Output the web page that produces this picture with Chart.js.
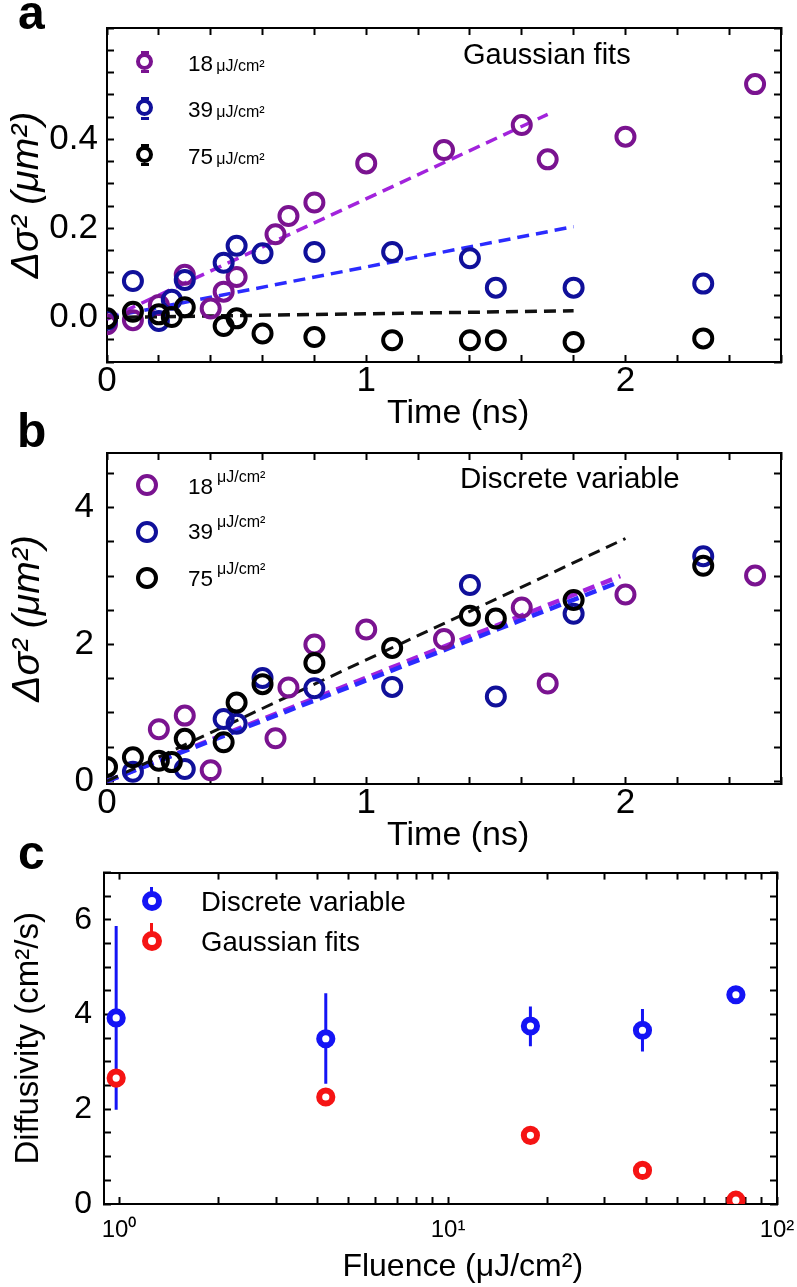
<!DOCTYPE html>
<html>
<head>
<meta charset="utf-8">
<script src="https://cdn.jsdelivr.net/npm/chart.js@4.4.1/dist/chart.umd.min.js"></script>
<style>
  body { margin: 0; background: #fff; }
  #page { position: relative; width: 797px; height: 1287px; overflow: hidden; font-family: "Liberation Sans", Arial, sans-serif; }
  canvas { position: absolute; left: 0; }
  .txt { position: absolute; line-height: 1; white-space: nowrap; color: #000; z-index: 2; }
  .mk { position: absolute; box-sizing: border-box; border-radius: 50%; border-style: solid; z-index: 2; }
  .stub { position: absolute; z-index: 2; }
</style>
</head>
<body>
<div id="page">
  <canvas id="chartA" width="797" height="440" style="top:0"></canvas>
  <canvas id="chartB" width="797" height="420" style="top:440px"></canvas>
  <canvas id="chartC" width="797" height="427" style="top:860px"></canvas>

  <!-- panel letters -->
  <div class="txt" style="left:18px;top:-11px;font-size:48px;font-weight:bold">a</div>
  <div class="txt" style="left:17px;top:407px;font-size:48px;font-weight:bold">b</div>
  <div class="txt" style="left:18px;top:829px;font-size:48px;font-weight:bold">c</div>

  <!-- panel a legend -->
  <div class="stub" style="left:141px;top:51px;width:8px;height:3px;background:#7a1390"></div>
  <div class="stub" style="left:141px;top:70px;width:8px;height:3px;background:#7a1390"></div>
  <div class="mk" style="left:136px;top:53px;width:17px;height:17px;border-width:4px;border-color:#7a1390"></div>
  <div class="stub" style="left:141px;top:97px;width:8px;height:3px;background:#10109a"></div>
  <div class="stub" style="left:141px;top:117px;width:8px;height:3px;background:#10109a"></div>
  <div class="mk" style="left:136px;top:99px;width:17px;height:17px;border-width:4px;border-color:#10109a"></div>
  <div class="stub" style="left:141px;top:144px;width:8px;height:3px;background:#000"></div>
  <div class="stub" style="left:141px;top:163px;width:8px;height:3px;background:#000"></div>
  <div class="mk" style="left:136px;top:146px;width:17px;height:17px;border-width:4px;border-color:#000"></div>
  <div class="txt" style="left:188px;top:53px;font-size:22.5px">18<span style="font-size:16px">&thinsp;μJ/cm²</span></div>
  <div class="txt" style="left:188px;top:99px;font-size:22.5px">39<span style="font-size:16px">&thinsp;μJ/cm²</span></div>
  <div class="txt" style="left:188px;top:146px;font-size:22.5px">75<span style="font-size:16px">&thinsp;μJ/cm²</span></div>
  <div class="txt" style="left:463px;top:40px;font-size:29px">Gaussian fits</div>

  <!-- panel b legend -->
  <div class="mk" style="left:136px;top:474px;width:22px;height:22px;border-width:4px;border-color:#7a1390"></div>
  <div class="mk" style="left:136px;top:521px;width:22px;height:22px;border-width:4px;border-color:#10109a"></div>
  <div class="mk" style="left:136px;top:567px;width:22px;height:22px;border-width:4px;border-color:#000"></div>
  <div class="txt" style="left:188px;top:476px;font-size:22.5px">18<span style="font-size:16px;position:relative;top:-12px;margin-left:4px">μJ/cm²</span></div>
  <div class="txt" style="left:188px;top:521px;font-size:22.5px">39<span style="font-size:16px;position:relative;top:-12px;margin-left:4px">μJ/cm²</span></div>
  <div class="txt" style="left:188px;top:568px;font-size:22.5px">75<span style="font-size:16px;position:relative;top:-12px;margin-left:4px">μJ/cm²</span></div>
  <div class="txt" style="left:460px;top:463px;font-size:29.5px">Discrete variable</div>

  <!-- panel c legend -->
  <div class="stub" style="left:150px;top:887px;width:3px;height:5px;background:#1414f5"></div>
  <div class="mk" style="left:142px;top:891px;width:20px;height:20px;border-width:6px;border-color:#1414f5"></div>
  <div class="stub" style="left:150px;top:923px;width:3px;height:9px;background:#f51414"></div>
  <div class="mk" style="left:142px;top:931px;width:20px;height:20px;border-width:6px;border-color:#f51414"></div>
  <div class="txt" style="left:201px;top:888px;font-size:27.5px">Discrete variable</div>
  <div class="txt" style="left:201px;top:928px;font-size:27.5px">Gaussian fits</div>
</div>

<script>
// ---------- panel a : Gaussian fits, delta sigma^2 (um^2) vs time (ns) ----------
const timeA18 = [0, 0.1, 0.2, 0.3, 0.4, 0.45, 0.5, 0.65, 0.7, 0.8, 1.0, 1.3, 1.6, 1.7, 2.0, 2.5];
const gaussA18 = [-0.015, -0.006, 0.028, 0.096, 0.020, 0.058, 0.091, 0.187, 0.228, 0.258, 0.346, 0.376, 0.432, 0.355, 0.406, 0.524];
const timeA39 = [0, 0.1, 0.2, 0.25, 0.3, 0.45, 0.5, 0.6, 0.8, 1.1, 1.4, 1.5, 1.8, 2.3];
const gaussA39 = [-0.005, 0.082, -0.008, 0.040, 0.084, 0.123, 0.161, 0.144, 0.147, 0.147, 0.133, 0.067, 0.067, 0.076];
const timeA75 = [0, 0.1, 0.2, 0.25, 0.3, 0.45, 0.5, 0.6, 0.8, 1.1, 1.4, 1.5, 1.8, 2.3];
const gaussA75 = [-0.002, 0.013, 0.007, 0.001, 0.023, -0.019, -0.002, -0.036, -0.044, -0.051, -0.051, -0.051, -0.055, -0.047];
// linear fits (end points)
const fitTimeA18 = [0, 1.7];   const fitA18 = [-0.004, 0.456];
const fitTimeA39 = [0, 1.8];   const fitA39 = [0.0, 0.204];
const fitTimeA75 = [0, 1.8];   const fitA75 = [0.0, 0.015];

// ---------- panel b : discrete variable ----------
const timeB18 = [0.2, 0.3, 0.4, 0.65, 0.7, 0.8, 1.0, 1.3, 1.6, 1.7, 2.0, 2.5];
const discB18 = [0.76, 0.96, 0.16, 0.63, 1.37, 2.0, 2.22, 2.08, 2.54, 1.43, 2.73, 3.01];
const timeB39 = [0.1, 0.3, 0.45, 0.5, 0.6, 0.8, 1.1, 1.4, 1.5, 1.8, 2.3];
const discB39 = [0.14, 0.18, 0.91, 0.84, 1.51, 1.36, 1.38, 2.87, 1.24, 2.45, 3.29];
const timeB75 = [0, 0.1, 0.2, 0.25, 0.3, 0.45, 0.5, 0.6, 0.8, 1.1, 1.4, 1.5, 1.8, 2.3];
const discB75 = [0.21, 0.35, 0.30, 0.28, 0.62, 0.57, 1.15, 1.42, 1.73, 1.95, 2.42, 2.38, 2.65, 3.15];
const fitTimeB18 = [0, 1.98]; const fitB18 = [0, 3.0];
const fitTimeB39 = [0, 1.98]; const fitB39 = [0, 2.92];
const fitTimeB75 = [0, 2.0];  const fitB75 = [0, 3.55];

// ---------- panel c : diffusivity (cm^2/s) vs fluence (uJ/cm^2) ----------
const fluence = [0.98, 4.25, 17.8, 39, 75];
const diffDiscrete = [3.93, 3.49, 3.76, 3.67, 4.42];
const diffDiscreteLo = [1.99, 2.54, 3.33, 3.22, 4.42];
const diffDiscreteHi = [5.87, 4.45, 4.17, 4.12, 4.42];
const diffGauss = [2.66, 2.26, 1.45, 0.71, 0.08];

// tick labels
const timeLabels = [0, 1, 2];
const sigmaLabelsA = [0, 0.2, 0.4];
const sigmaLabelsB = [0, 2, 4];
const fluenceLabels = [1, 10, 100];
const fluenceSup = {1: '10⁰', 10: '10¹', 100: '10²'};
const diffLabels = [0, 2, 4, 6];

const FONT = '"Liberation Sans", Arial, sans-serif';
const PURPLE = '#7a1390', BLUE = '#10109a';
const PURPLE_LN = '#a223dc', BLUE_LN = '#2b2bff';
const BLUE_C = '#1414f5', RED_C = '#f51414';

function pts(xs, ys) { return xs.map((x, i) => ({x: x, y: ys[i]})); }
function steps(a, b, s) { var out = []; for (var v = a; v <= b + 1e-9; v += s) out.push(Math.round(v * 1e6) / 1e6); return out; }
function logSteps() { var out = []; [1, 10].forEach(d => { for (var k = 1; k < 10; k++) out.push(k * d); }); out.push(100); return out; }

function axis(pos, o) {
  const horiz = pos === 'top' || pos === 'bottom';
  return {
    type: o.type || 'linear', position: pos, axis: horiz ? 'x' : 'y',
    min: o.min, max: o.max,
    afterBuildTicks: s => { s.ticks = o.ticks.map(v => ({value: v})); },
    afterFit: s => {
      if (horiz) s.height = o.size; else s.width = o.size;
      // no extra room for labels hanging over the plot edges
      s.paddingTop = 0; s.paddingBottom = 0; s.paddingLeft = 0; s.paddingRight = 0;
    },
    ticks: {
      display: !!o.labels, autoSkip: false, maxRotation: 0, minRotation: 0,
      color: '#000', padding: o.pad || 0,
      font: {family: FONT, size: o.fontSize || 35},
      callback: v => (o.labels && o.labels.some(l => Math.abs(l - v) < 1e-9)) ? o.fmt(v) : ''
    },
    grid: {drawOnChartArea: false, drawTicks: true, tickLength: -7, tickWidth: 2, tickColor: '#000'},
    border: {display: true, color: '#000', width: 2},
    title: o.title ? {display: true, text: o.title, color: '#000',
      font: {family: FONT, size: o.titleSize, style: o.titleStyle || 'normal'},
      padding: o.titlePad} : {display: false}
  };
}

function markers(xs, ys, color, r, bw, order, fill) {
  return {data: pts(xs, ys), showLine: false, order: order, clip: 0,
    pointStyle: 'circle', pointRadius: r, pointBorderWidth: bw,
    pointBorderColor: color, pointBackgroundColor: fill || 'rgba(0,0,0,0)'};
}
function fitLine(xs, ys, color, w, order) {
  return {data: pts(xs, ys), showLine: true, order: order, pointRadius: 0,
    borderColor: color, borderWidth: w, borderDash: [12, 7], fill: false};
}

const common = {
  responsive: false, animation: false, events: [],
  plugins: {legend: {display: false}, tooltip: {enabled: false}}
};

// panel a
new Chart(document.getElementById('chartA'), {
  type: 'scatter',
  data: {datasets: [
    markers(timeA75, gaussA75, '#000', 9, 4, 1),
    markers(timeA39, gaussA39, BLUE, 9, 4, 2),
    markers(timeA18, gaussA18, PURPLE, 9, 4, 3),
    fitLine(fitTimeA75, fitA75, '#111', 3.5, 4),
    fitLine(fitTimeA39, fitA39, BLUE_LN, 3.5, 5),
    fitLine(fitTimeA18, fitA18, PURPLE_LN, 3.5, 6)
  ]},
  options: Object.assign({}, common, {
    layout: {padding: {left: 0, top: 28, right: 16, bottom: 0}},
    scales: {
      x: axis('bottom', {min: 0, max: 2.6, ticks: steps(0, 2.6, 0.2), labels: timeLabels, fmt: v => String(v),
        size: 78, pad: 5, title: '\u00a0\u00a0\u00a0Time (ns)', titleSize: 34, titlePad: {top: 0, bottom: 6}}),
      x2: axis('top', {min: 0, max: 2.6, ticks: steps(0, 2.6, 0.2), size: 0}),
      y: axis('left', {min: -0.1, max: 0.65, ticks: steps(-0.1, 0.65, 0.05), labels: sigmaLabelsA, fmt: v => v.toFixed(1),
        size: 107, pad: 16, title: 'Δσ² (μm²)', titleSize: 39, titleStyle: 'italic', titlePad: {top: 4, bottom: 0}}),
      y2: axis('right', {min: -0.1, max: 0.65, ticks: steps(-0.1, 0.65, 0.05), size: 0})
    }
  })
});

// panel b
new Chart(document.getElementById('chartB'), {
  type: 'scatter',
  data: {datasets: [
    markers(timeB75, discB75, '#000', 9, 4, 1),
    markers(timeB39, discB39, BLUE, 9, 4, 2),
    markers(timeB18, discB18, PURPLE, 9, 4, 3),
    fitLine(fitTimeB75, fitB75, '#111', 3, 4),
    fitLine(fitTimeB18, fitB18, PURPLE_LN, 4.5, 6),
    fitLine(fitTimeB39, fitB39, BLUE_LN, 4.5, 5)
  ]},
  options: Object.assign({}, common, {
    layout: {padding: {left: 0, top: 10, right: 16, bottom: 0}},
    scales: {
      x: axis('bottom', {min: 0, max: 2.6, ticks: steps(0, 2.6, 0.2), labels: timeLabels, fmt: v => String(v),
        size: 76, pad: 5, title: '\u00a0\u00a0\u00a0Time (ns)', titleSize: 34, titlePad: {top: 0, bottom: 4}}),
      x2: axis('top', {min: 0, max: 2.6, ticks: steps(0, 2.6, 0.2), size: 0}),
      y: axis('left', {min: -0.04, max: 4.8, ticks: steps(0, 4.5, 0.5), labels: sigmaLabelsB, fmt: v => String(v),
        size: 107, pad: 20, title: 'Δσ² (μm²)', titleSize: 39, titleStyle: 'italic', titlePad: {top: 5, bottom: 0}}),
      y2: axis('right', {min: -0.04, max: 4.8, ticks: steps(0, 4.5, 0.5), size: 0})
    }
  })
});

// panel c
const errBars = fluence.map((f, i) => ({
  data: [{x: f, y: diffDiscreteLo[i]}, {x: f, y: diffDiscreteHi[i]}],
  showLine: true, pointRadius: 0, borderColor: BLUE_C, borderWidth: 3, order: 5
}));
new Chart(document.getElementById('chartC'), {
  type: 'scatter',
  data: {datasets: [
    markers(fluence, diffGauss, RED_C, 6.6, 6, 1, '#fff'),
    markers(fluence, diffDiscrete, BLUE_C, 6.6, 6, 2, '#fff')
  ].concat(errBars)},
  options: Object.assign({}, common, {
    layout: {padding: {left: 0, top: 11, right: 20, bottom: 0}},
    scales: {
      x: axis('bottom', {type: 'logarithmic', min: 0.9, max: 100, ticks: logSteps(), labels: fluenceLabels,
        fmt: v => fluenceSup[v], fontSize: 24, size: 83, pad: 19,
        title: '\u00a0\u00a0\u00a0\u00a0\u00a0Fluence (μJ/cm²)', titleSize: 32, titlePad: {top: 0, bottom: 1}}),
      x2: axis('top', {type: 'logarithmic', min: 0.9, max: 100, ticks: logSteps(), size: 0}),
      y: axis('left', {min: 0, max: 7, ticks: steps(0, 7, 0.5), labels: diffLabels, fmt: v => String(v),
        fontSize: 32, size: 104, pad: 19, title: 'Diffusivity (cm²/s)', titleSize: 33, titlePad: {top: 9, bottom: 0}}),
      y2: axis('right', {min: 0, max: 7, ticks: steps(0, 7, 0.5), size: 0})
    }
  })
});
</script>
</body>
</html>
